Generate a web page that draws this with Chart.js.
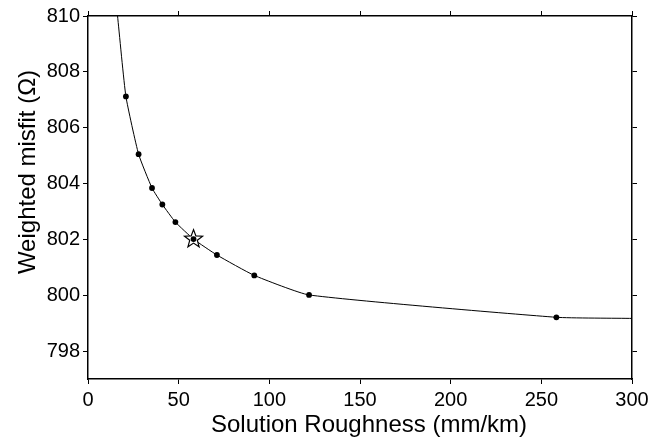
<!DOCTYPE html>
<html>
<head>
<meta charset="utf-8">
<script src="https://cdn.jsdelivr.net/npm/chart.js@4.4.0/dist/chart.umd.min.js"></script>
<style>
  html, body { margin: 0; padding: 0; background: #fff; }
  #wrap { width: 661px; height: 437px; }
</style>
</head>
<body>
<div id="wrap"><canvas id="misfitChart"></canvas></div>
<script>
// trade-off curve
const roughness = [16.3, 20.9, 27.9, 35.3, 41.0, 48.2, 58.2, 71.1, 91.7, 121.9, 258.3, 300];
const misfit = [810, 807.12, 805.05, 803.84, 803.25, 802.62, 802.01, 801.44, 800.71, 800.01, 799.21, 799.17];
const hasDot = [false, true, true, true, true, true, true, true, true, true, true, false];
const starIndex = 6;

const xTicks = [0, 50, 100, 150, 200, 250, 300];
const yTicks = [798, 800, 802, 804, 806, 808, 810];
const xTitle = 'Solution Roughness (mm/km)';
const yTitle = 'Weighted misfit (\u03A9)';

const FONT = '"Liberation Sans", Arial, Helvetica, sans-serif';

const linePoints = roughness.map((x, i) => ({ x: x, y: misfit[i] }));
const dotPoints = linePoints.filter((p, i) => hasDot[i]);
const starPoint = [linePoints[starIndex]];

// five-pointed open star drawn at the position the scales give the point
const starMarker = {
    id: 'starMarker',
    afterDatasetDraw(chart, args) {
        if (args.index !== 1) return;
        const ctx = chart.ctx;
        const rOut = 9.5, rIn = 4;
        args.meta.data.forEach(el => {
            ctx.save();
            ctx.beginPath();
            for (let i = 0; i < 10; i++) {
                const r = i % 2 === 0 ? rOut : rIn;
                const a = -Math.PI / 2 + i * Math.PI / 5;
                const px = el.x + r * Math.cos(a), py = el.y + r * Math.sin(a);
                if (i === 0) ctx.moveTo(px, py); else ctx.lineTo(px, py);
            }
            ctx.closePath();
            ctx.fillStyle = '#fff';
            ctx.fill();
            ctx.lineWidth = 1.2;
            ctx.strokeStyle = '#000';
            ctx.lineJoin = 'miter';
            ctx.stroke();
            ctx.restore();
        });
    }
};

const axisTitles = {
    id: 'axisTitles',
    afterDraw(chart) {
        const { ctx, chartArea } = chart;
        ctx.save();
        ctx.fillStyle = '#000';
        ctx.font = '24px ' + FONT;
        ctx.textAlign = 'center';
        ctx.textBaseline = 'alphabetic';
        ctx.fillText(xTitle, chartArea.left + 281, chartArea.bottom + 53);
        ctx.translate(chartArea.left - 53, chartArea.top + 156);
        ctx.rotate(-Math.PI / 2);
        ctx.fillText(yTitle, 0, 0);
        ctx.restore();
    }
};

function fixTicks(list) {
    return scale => { scale.ticks = list.map(v => ({ value: v })); };
}

const gridOpts = {
    display: true,
    drawOnChartArea: false,
    drawTicks: true,
    tickLength: 5,
    color: '#000',
    lineWidth: 1
};
const borderOpts = { display: true, color: '#000', width: 1.5 };

new Chart(document.getElementById('misfitChart'), {
    type: 'scatter',
    data: {
        datasets: [
            {
                data: dotPoints,
                showLine: false,
                pointRadius: 2.9,
                pointBackgroundColor: '#000',
                pointBorderWidth: 0,
                order: 0
            },
            {
                data: starPoint,
                showLine: false,
                pointRadius: 0,
                order: 1
            },
            {
                data: linePoints,
                showLine: true,
                borderColor: '#000',
                borderWidth: 1,
                pointRadius: 0,
                tension: 0.15,
                order: 2
            }
        ]
    },
    options: {
        responsive: true,
        maintainAspectRatio: false,
        animation: false,
        events: [],
        layout: { padding: 0 },
        plugins: {
            legend: { display: false },
            tooltip: { enabled: false }
        },
        scales: {
            x: {
                type: 'linear',
                position: 'bottom',
                min: 0,
                max: 300,
                afterBuildTicks: fixTicks(xTicks),
                afterFit: s => { s.height = 58; },
                grid: gridOpts,
                border: borderOpts,
                ticks: { color: '#000', padding: 4, font: { family: FONT, size: 20 } }
            },
            x2: {
                type: 'linear',
                position: 'top',
                min: 0,
                max: 300,
                afterBuildTicks: fixTicks(xTicks),
                afterFit: s => { s.height = 16; },
                grid: gridOpts,
                border: borderOpts,
                ticks: { display: false }
            },
            y: {
                type: 'linear',
                position: 'left',
                min: 797,
                max: 810,
                afterBuildTicks: fixTicks(yTicks),
                afterFit: s => { s.width = 88; },
                grid: gridOpts,
                border: borderOpts,
                ticks: { color: '#000', padding: 3, font: { family: FONT, size: 20 } }
            },
            y2: {
                type: 'linear',
                position: 'right',
                min: 797,
                max: 810,
                afterBuildTicks: fixTicks(yTicks),
                afterFit: s => { s.width = 29; },
                grid: gridOpts,
                border: borderOpts,
                ticks: { display: false }
            }
        }
    },
    plugins: [starMarker, axisTitles]
});
</script>
</body>
</html>
